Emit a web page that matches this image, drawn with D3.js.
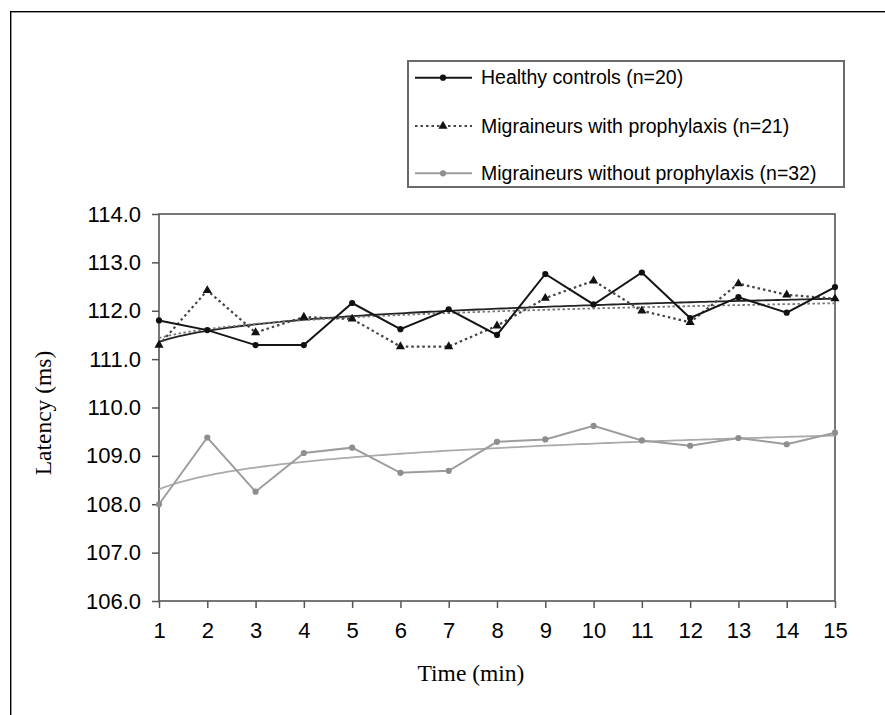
<!DOCTYPE html>
<html><head><meta charset="utf-8">
<script src="https://cdn.jsdelivr.net/npm/d3@7"></script>
<style>html,body{margin:0;padding:0;background:#fff;} svg{display:block}</style>
</head><body><svg id="chart" width="885" height="715"></svg>
<script>
const timeMin = [1,2,3,4,5,6,7,8,9,10,11,12,13,14,15];
const healthy = [111.80,111.60,111.29,111.29,112.16,111.62,112.03,111.50,112.76,112.13,112.79,111.85,112.28,111.96,112.49];
const prophylaxis = [111.29,112.42,111.55,111.87,111.83,111.26,111.26,111.69,112.26,112.62,112.00,111.76,112.56,112.33,112.25];
const noProphylaxis = [108.00,109.38,108.26,109.06,109.17,108.65,108.69,109.29,109.34,109.62,109.32,109.21,109.37,109.24,109.48];
const yTicks = [106,107,108,109,110,111,112,113,114];
const seriesNames = ["Healthy controls (n=20)","Migraineurs with prophylaxis (n=21)","Migraineurs without prophylaxis (n=32)"];
const xTitle = "Time (min)";
const yTitle = "Latency (ms)";

const svg = d3.select("#chart");
const L = 159, R = 835, T = 214, B = 601;
const x = d3.scaleLinear().domain([1,15]).range([L,R]);
const y = d3.scaleLinear().domain([106,114]).range([B,T]);

// outer frame
svg.append("rect").attr("x",10.7).attr("y",11.7).attr("width",950).attr("height",800)
  .attr("fill","none").attr("stroke","#000").attr("stroke-width",1.4);

// logarithmic trendline (least squares on ln t)
function logFit(vals){
  const lx = timeMin.map(t=>Math.log(t));
  const mx = d3.mean(lx), my = d3.mean(vals);
  let sxy=0, sxx=0;
  lx.forEach((l,i)=>{sxy+=(l-mx)*(vals[i]-my); sxx+=(l-mx)*(l-mx);});
  const b=sxy/sxx, a=my-b*mx;
  const pts=[];
  for(let t=1;t<=15.0001;t+=0.1) pts.push([t,a+b*Math.log(t)]);
  return pts;
}

const series = [
  {name:seriesNames[0], vals:healthy, color:"#151515", dash:null, width:2, marker:"circle", mcolor:"#111", trendColor:"#222", trendDash:null},
  {name:seriesNames[1], vals:prophylaxis, color:"#444", dash:"2.5,3", width:2.2, marker:"triangle", mcolor:"#111", trendColor:"#777", trendDash:"2.5,2.5"},
  {name:seriesNames[2], vals:noProphylaxis, color:"#9d9d9d", dash:null, width:2, marker:"circle", mcolor:"#8e8e8e", trendColor:"#aaa", trendDash:null}
];

const yAxis = d3.axisLeft(y).tickValues(yTicks).tickFormat(d3.format(".1f")).tickSize(7).tickSizeOuter(0).tickPadding(11);
const gy = svg.append("g").attr("transform",`translate(${L},0)`).call(yAxis);
const xAxis = d3.axisBottom(x).tickValues(timeMin).tickFormat(d3.format("d")).tickSize(7).tickSizeOuter(0).tickPadding(14);
const gx = svg.append("g").attr("transform",`translate(0,${B})`).call(xAxis);
[gx,gy].forEach(g=>{
  g.select(".domain").remove();
  g.selectAll(".tick line").attr("stroke","#555").attr("stroke-width",1.5);
  g.selectAll(".tick text").attr("fill","#000").style("font-family","'Liberation Sans', Arial, sans-serif").style("font-size","22px");
});

svg.append("rect").attr("x",L).attr("y",T).attr("width",R-L).attr("height",B-T)
  .attr("fill","none").attr("stroke","#555").attr("stroke-width",1.6);

const line = d3.line().x(d=>x(d[0])).y(d=>y(d[1]));
const sym = {circle:d3.symbol().type(d3.symbolCircle).size(30), triangle:d3.symbol().type(d3.symbolTriangle).size(36)};

series.forEach(s=>{
  svg.append("path").datum(logFit(s.vals)).attr("d",line).attr("fill","none")
    .attr("stroke",s.trendColor).attr("stroke-width",1.8).attr("stroke-dasharray",s.trendDash);
});
[2,1,0].forEach(k=>{
  const s=series[k];
  const pts = timeMin.map((t,i)=>[t,s.vals[i]]);
  svg.append("path").datum(pts).attr("d",line).attr("fill","none")
    .attr("stroke",s.color).attr("stroke-width",s.width).attr("stroke-dasharray",s.dash);
  svg.append("g").selectAll("path").data(pts).join("path")
    .attr("transform",d=>`translate(${x(d[0])},${y(d[1])})`)
    .attr("d",sym[s.marker]).attr("fill",s.mcolor);
});

const lg = svg.append("g");
lg.append("rect").attr("x",408).attr("y",61).attr("width",436).attr("height",126)
  .attr("fill","#fff").attr("stroke","#6a6a6a").attr("stroke-width",2);
const rowY = [77.7,126,173.3];
series.forEach((s,i)=>{
  lg.append("line").attr("x1",415).attr("x2",472).attr("y1",rowY[i]).attr("y2",rowY[i])
    .attr("stroke",s.color).attr("stroke-width",s.width).attr("stroke-dasharray",s.dash);
  lg.append("path").attr("transform",`translate(443,${rowY[i]})`).attr("d",sym[s.marker]).attr("fill",s.mcolor);
  lg.append("text").attr("x",481).attr("y",rowY[i]+6.5).text(s.name)
    .style("font-family","'Liberation Sans', Arial, sans-serif").style("font-size","19.5px").attr("fill","#000");
});

svg.append("text").attr("x",471).attr("y",681).attr("text-anchor","middle").text(xTitle)
  .style("font-family","'Liberation Serif','Times New Roman',serif").style("font-size","23.5px");
svg.append("text").attr("transform","translate(51,413) rotate(-90)").attr("text-anchor","middle").text(yTitle)
  .style("font-family","'Liberation Serif','Times New Roman',serif").style("font-size","23.5px");
</script></body></html>
